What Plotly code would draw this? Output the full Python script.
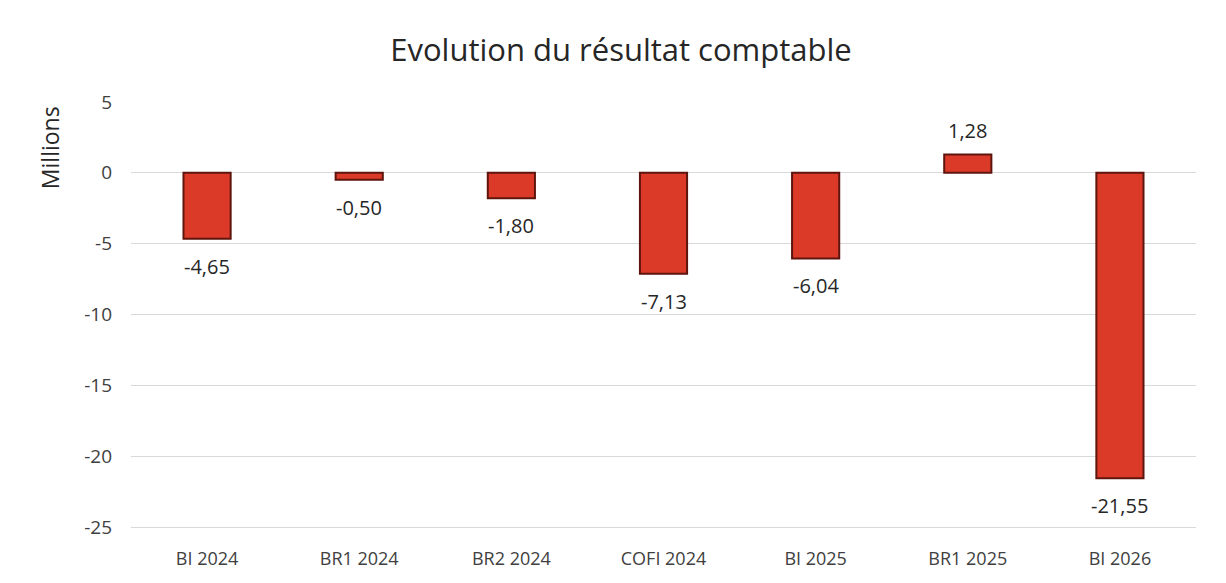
import plotly.graph_objects as go

categories = ["BI 2024", "BR1 2024", "BR2 2024", "COFI 2024", "BI 2025", "BR1 2025", "BI 2026"]
values = [-4.65, -0.50, -1.80, -7.13, -6.04, 1.28, -21.55]
tick_vals = [5, 0, -5, -10, -15, -20, -25]
tick_text = ["5", "0", "-5", "-10", "-15", "-20", "-25"]

labels = [f"{v:.2f}".replace(".", ",") for v in values]

fig = go.Figure(go.Bar(
    x=categories, y=values,
    textposition="none",
    marker=dict(color="#dc3a29", line=dict(color="#5e150d", width=2)),
    width=0.31, hoverinfo="skip",
))

annotations = []
for c, v, t in zip(categories, values, labels):
    annotations.append(dict(
        x=c, y=v, xref="x", yref="y", text=t, showarrow=False,
        yanchor="top" if v < 0 else "bottom",
        yshift=-12 if v < 0 else 9,
        font=dict(size=20, color="#262626", family="Open Sans"),
    ))
annotations.append(dict(text="Millions", textangle=-90, xref="paper", yref="paper",
                        x=-0.076, y=0.89, xanchor="center", yanchor="middle",
                        showarrow=False,
                        font=dict(size=23, color="#262626", family="Open Sans")))

fig.update_layout(
    width=1226, height=583,
    paper_bgcolor="white", plot_bgcolor="white",
    margin=dict(l=123, r=38, t=93, b=62, autoexpand=False),
    title=dict(text="Evolution du résultat comptable", x=0.5, xanchor="center",
               y=0.928, yanchor="middle",
               font=dict(size=31, color="#262626", family="Open Sans")),
    showlegend=False,
    xaxis=dict(tickfont=dict(size=18, color="#404040", family="Open Sans"),
               showline=False, ticks="", ticklabelstandoff=17, automargin=False),
    yaxis=dict(range=[-25.12, 5.06], tickvals=tick_vals, ticktext=tick_text,
               tickfont=dict(size=19, color="#404040", family="Open Sans"),
               gridcolor="#d9d9d9", gridwidth=1, zeroline=True, zerolinecolor="#d9d9d9",
               zerolinewidth=1, ticks="", ticklabelstandoff=18, automargin=False),
    annotations=annotations,
)

fig.write_html("out.html")
